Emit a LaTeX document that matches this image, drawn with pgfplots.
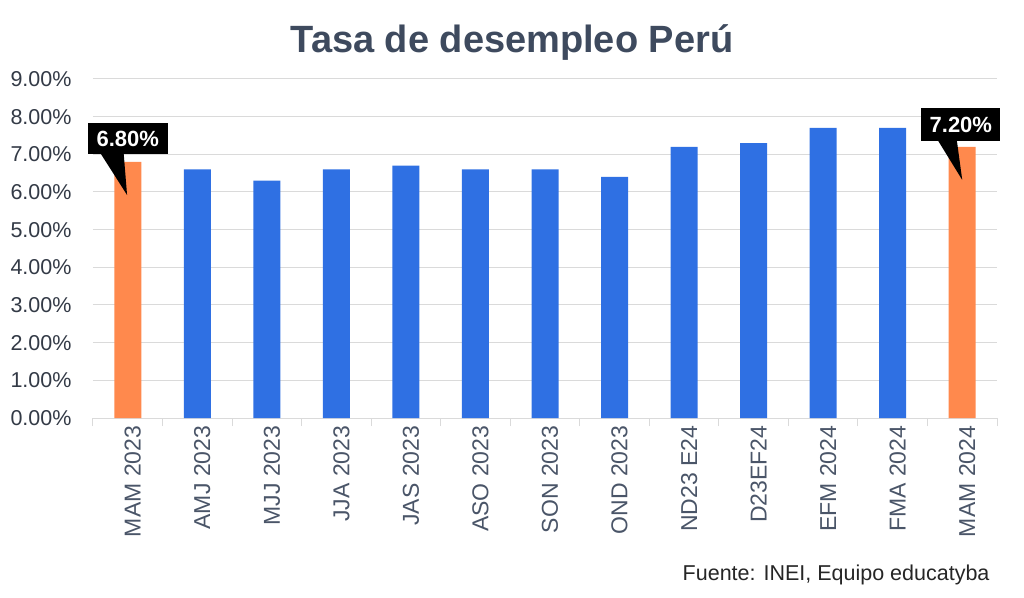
\documentclass[border=0pt]{standalone}
\usepackage{fontspec}
\setmainfont{Liberation Sans}
\usepackage{pgfplots}
\pgfplotsset{compat=1.18}

\definecolor{barblue}{RGB}{47,112,227}
\definecolor{barorange}{RGB}{255,137,77}
\definecolor{titlecol}{RGB}{62,74,94}
\definecolor{tickcol}{RGB}{51,58,70}
\definecolor{labcol}{RGB}{74,85,104}
\definecolor{gridcol}{RGB}{218,218,218}

\begin{document}
\begin{tikzpicture}
% page frame, 1pt = 1px of the reference
\path (0pt,0pt) rectangle (1024pt,597pt);

\node[font=\bfseries\fontsize{38}{44}\selectfont, text=titlecol] at (512pt,554pt) {Tasa de desempleo Perú};
\node[anchor=base east, font=\fontsize{21.5}{25}\selectfont, text=black!85] at (993pt,17pt) {Fuente: INEI, Equipo educatyba};

\begin{axis}[
    at={(93pt,179pt)}, anchor=south west,
    width=904pt, height=339pt, scale only axis,
    ybar, bar width=27pt,
    xmin=-0.5, xmax=12.5, ymin=0, ymax=9,
    axis x line*=bottom, axis y line*=left,
    x axis line style={draw=gridcol, line width=1pt},
    y axis line style={draw=none},
    xtick={0,...,12},
    xticklabels={MAM 2023,AMJ 2023,MJJ 2023,JJA 2023,JAS 2023,ASO 2023,SON 2023,OND 2023,ND23 E24,D23EF24,EFM 2024,FMA 2024,MAM 2024},
    minor xtick={-0.5,0.5,...,12.5},
    xtick align=outside,
    major x tick style={draw=none},
    minor x tick style={draw=gridcol, line width=1pt},
    minor tick length=8pt,
    x tick label style={rotate=90, anchor=east, font=\fontsize{23}{27}\selectfont, text=labcol, yshift=-5pt},
    ytick={0,...,9},
    ytick style={draw=none},
    ymajorgrids,
    grid style={draw=gridcol, line width=1pt},
    /pgf/number format/assume math mode=true,
    yticklabel={\pgfmathprintnumber[fixed,fixed zerofill,precision=2]{\tick}\%},
    y tick label style={font=\fontsize{21.5}{26}\selectfont, text=tickcol, xshift=-18pt},
    clip=false,
]
\addplot[fill=barblue, draw=none, bar shift=0pt] coordinates {
    (1,6.6) (2,6.3) (3,6.6) (4,6.7) (5,6.6) (6,6.6) (7,6.4)
    (8,7.2) (9,7.3) (10,7.7) (11,7.7)
};
\addplot[fill=barorange, draw=none, bar shift=0pt] coordinates {
    (0,6.8) (12,7.2)
};

% callouts
\fill[black] (axis cs:-0.40,7.05) -- (axis cs:-0.06,7.05) -- (axis cs:-0.01,5.92) -- cycle;
\node[fill=black, text=white, font=\bfseries\fontsize{22}{26}\selectfont,
      minimum width=80pt, minimum height=31pt, inner sep=0pt, anchor=north]
      at (axis cs:0,7.83) {6.80\%};
\fill[black] (axis cs:11.64,7.40) -- (axis cs:11.92,7.40) -- (axis cs:12.0,6.32) -- cycle;
\node[fill=black, text=white, font=\bfseries\fontsize{22}{26}\selectfont,
      minimum width=79pt, minimum height=33pt, inner sep=0pt, anchor=north]
      at (axis cs:11.98,8.23) {7.20\%};
\end{axis}
\end{tikzpicture}
\end{document}
